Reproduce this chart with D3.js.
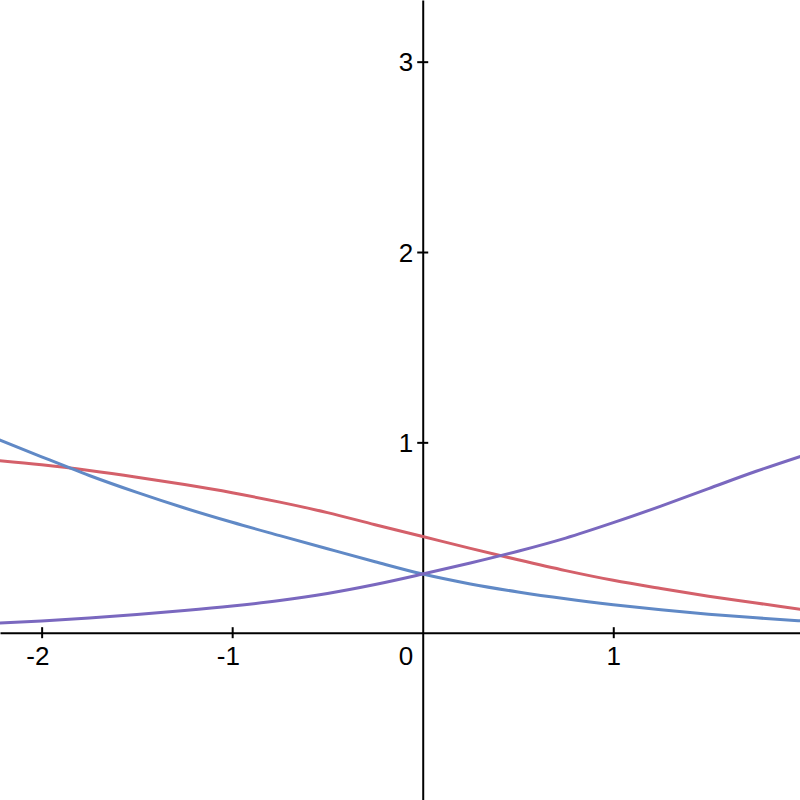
<!DOCTYPE html>
<html>
<head>
<meta charset="utf-8">
<script src="https://cdn.jsdelivr.net/npm/d3@7"></script>
<style>
  html, body { margin: 0; padding: 0; background: #fff; }
  svg { display: block; }
</style>
</head>
<body>
<svg id="chart" width="800" height="800"></svg>
<script>
// x sample positions
const xs = [-2.25, -2, -1.75, -1.5, -1.25, -1, -0.75, -0.5, -0.25, 0, 0.25, 0.5, 0.75, 1, 1.25, 1.5, 1.75, 2];
// red curve (decreasing, crosses y-axis near 0.5)
const redValues = [0.906, 0.882, 0.852, 0.817, 0.778, 0.735, 0.686, 0.631, 0.567, 0.505, 0.443, 0.383, 0.326, 0.275, 0.232, 0.192, 0.156, 0.120];
// blue curve (decreasing)
const blueValues = [1.025, 0.924, 0.826, 0.737, 0.655, 0.580, 0.510, 0.441, 0.373, 0.308, 0.256, 0.214, 0.178, 0.147, 0.120, 0.097, 0.078, 0.061];
// purple curve (increasing)
const purpleValues = [0.050, 0.062, 0.077, 0.095, 0.116, 0.140, 0.169, 0.206, 0.253, 0.308, 0.366, 0.428, 0.497, 0.578, 0.665, 0.757, 0.848, 0.932];

const xTickValues = [-2, -1, 1];
const xTickLabels = ["-2", "-1", "1"];
const yTickValues = [1, 2, 3];
const yTickLabels = ["1", "2", "3"];
const originLabel = "0";

const seriesNames = ["red", "blue", "purple"];
const seriesColors = { red: "#d4606a", blue: "#6089c6", purple: "#7a68bf" };

const W = 800, H = 800;
const svg = d3.select("#chart");

const x = d3.scaleLinear().domain([-2.2185, 1.980]).range([0, W]);
const y = d3.scaleLinear().domain([-0.879, 3.324]).range([H, 0]);

const FONT = "'Liberation Sans', Arial, sans-serif";
const FS = 26;

// axes
const xAxis = d3.axisBottom(x).tickValues(xTickValues).tickSizeOuter(0).tickSizeInner(0).tickFormat("");
const yAxis = d3.axisLeft(y).tickValues(yTickValues).tickSizeOuter(0).tickSizeInner(0).tickFormat("");

const gx = svg.append("g").attr("transform", `translate(0,${y(0)})`).call(xAxis);
const gy = svg.append("g").attr("transform", `translate(${x(0)},0)`).call(yAxis);

gx.select(".domain").attr("stroke", "#000").attr("stroke-width", 2);
gy.select(".domain").attr("stroke", "#000").attr("stroke-width", 2);
gx.selectAll(".tick line").attr("y1", -5.5).attr("y2", 5.5).attr("stroke", "#000").attr("stroke-width", 2);
gy.selectAll(".tick line").attr("x1", -5.5).attr("x2", 5.5).attr("stroke", "#000").attr("stroke-width", 2);

// x tick labels: digit centered on tick, minus sign hanging left
const digitW = 0.556 * FS;
gx.selectAll(".tick").append("text")
  .attr("x", digitW / 2)
  .attr("y", 32)
  .attr("fill", "#000")
  .attr("text-anchor", "end")
  .attr("font-family", FONT)
  .attr("font-size", FS)
  .text((d, i) => xTickLabels[i]);

gy.selectAll(".tick").append("text")
  .attr("x", -9.5)
  .attr("y", 9)
  .attr("fill", "#000")
  .attr("text-anchor", "end")
  .attr("font-family", FONT)
  .attr("font-size", FS)
  .text((d, i) => yTickLabels[i]);

svg.append("text")
  .attr("x", x(0) - 9.5)
  .attr("y", y(0) + 32)
  .attr("text-anchor", "end")
  .attr("font-family", FONT)
  .attr("font-size", FS)
  .attr("fill", "#000")
  .text(originLabel);

// curves
const seriesData = {
  red: xs.map((v, i) => [v, redValues[i]]),
  blue: xs.map((v, i) => [v, blueValues[i]]),
  purple: xs.map((v, i) => [v, purpleValues[i]])
};

const line = d3.line()
  .x(d => x(d[0]))
  .y(d => y(d[1]))
  .curve(d3.curveMonotoneX);

svg.append("g").selectAll("path.series")
  .data(seriesNames)
  .join("path")
  .attr("class", "series")
  .attr("fill", "none")
  .attr("stroke", d => seriesColors[d])
  .attr("stroke-width", 3)
  .attr("stroke-linecap", "round")
  .attr("d", d => line(seriesData[d]));
</script>
</body>
</html>
